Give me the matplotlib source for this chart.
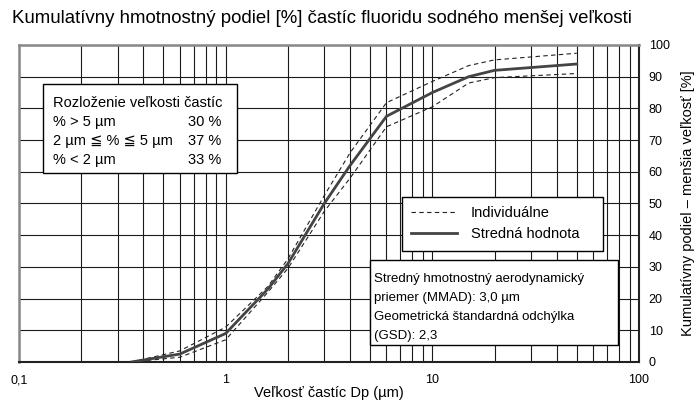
import matplotlib
matplotlib.use("Agg")
from matplotlib import pyplot as plt
from matplotlib.patches import Rectangle
from matplotlib.ticker import LogLocator, NullFormatter, FixedLocator
import numpy as np

plt.rcParams['font.family'] = ['Liberation Sans', 'DejaVu Sans']

# particle diameter (um) and cumulative mass fraction below size (%)
dp = [0.35, 0.6, 1.0, 1.6, 2.0, 3.0, 4.0, 6.0, 10, 15, 20, 50]
mean_val = [0, 2.5, 9, 23, 31, 50, 62, 77.5, 85, 90, 92, 94]
indiv_hi = [0, 3.5, 11, 23.8, 32.5, 52.5, 66, 81.8, 88.5, 93.5, 95.3, 97.4]
indiv_lo = [0, 1.5, 7, 22, 29.5, 47.5, 58, 74.2, 80.5, 88, 89.7, 91]

x_ticks = [0.1, 1, 10, 100]
x_ticklabels = ["0,1", "1", "10", "100"]
y_ticks = list(range(0, 101, 10))

dist_rows = [("% > 5 µm", "30 %"),
             ("2 µm ≦ % ≦ 5 µm", "37 %"),
             ("% < 2 µm", "33 %")]
mmad_lines = ["Stredný hmotnostný aerodynamický",
              "priemer (MMAD): 3,0 µm",
              "Geometrická štandardná odchýlka",
              "(GSD): 2,3"]

fig = plt.figure(figsize=(6.94, 4.01), dpi=100)
ax = fig.add_axes([0.0274, 0.0973, 0.8933, 0.7905])

ax.set_xscale('log')
ax.set_xlim(0.1, 100)
ax.set_ylim(0, 100)

# grid
ax.xaxis.set_major_locator(FixedLocator(x_ticks))
ax.xaxis.set_minor_locator(LogLocator(base=10, subs=np.arange(2, 10)))
ax.xaxis.set_minor_formatter(NullFormatter())
ax.set_xticklabels(x_ticklabels)
ax.set_yticks(y_ticks)
ax.grid(True, which='both', axis='x', color='#1a1a1a', linewidth=0.8, zorder=0)
ax.grid(True, which='major', axis='y', color='#1a1a1a', linewidth=0.8, zorder=0)
ax.set_axisbelow(True)

ax.yaxis.tick_right()
ax.yaxis.set_label_position('right')
ax.tick_params(axis='both', which='both', length=0, labelsize=9)
ax.tick_params(axis='x', pad=9)
ax.tick_params(axis='y', pad=7)

for side in ['top', 'left']:
    ax.spines[side].set_color('#888888')
    ax.spines[side].set_linewidth(1.8)
for side in ['bottom', 'right']:
    ax.spines[side].set_color('#222222')
    ax.spines[side].set_linewidth(1.5)

# curves
ax.plot(dp, indiv_hi, color='#222222', linewidth=0.8, linestyle=(0, (4, 3)),
        label='Individuálne', zorder=3)
ax.plot(dp, indiv_lo, color='#222222', linewidth=0.8, linestyle=(0, (4, 3)), zorder=3)
ax.plot(dp, mean_val, color='#444444', linewidth=2.0, label='Stredná hodnota', zorder=4)

ax.set_xlabel("Veľkosť častíc Dp (µm)", fontsize=10.5, labelpad=0)
ax.set_ylabel("Kumulatívny podiel – menšia veľkosť [%]", fontsize=10.5, labelpad=8)

fig.text(0.017, 0.955, "Kumulatívny hmotnostný podiel [%] častíc fluoridu sodného menšej veľkosti",
         fontsize=13.4, va='center', ha='left')

# size distribution box
ax.add_patch(Rectangle((0.0387, 0.596), 0.3129, 0.281, transform=ax.transAxes,
                       facecolor='white', edgecolor='black', linewidth=1.0, zorder=5))
ax.text(0.055, 0.817, "Rozloženie veľkosti častíc", transform=ax.transAxes,
        fontsize=10.5, va='center', ha='left', zorder=6)
for i, (lbl, val) in enumerate(dist_rows):
    yy = 0.757 - i * 0.060
    ax.text(0.055, yy, lbl, transform=ax.transAxes, fontsize=10.5, va='center', ha='left', zorder=6)
    ax.text(0.327, yy, val, transform=ax.transAxes, fontsize=10.5, va='center', ha='right', zorder=6)

# legend
leg = ax.legend(loc='upper left', bbox_to_anchor=(0.6177, 0.347, 0.3243, 0.1735),
                mode='expand', fontsize=10.5, frameon=True, fancybox=False,
                edgecolor='black', framealpha=1, handlelength=3.15, handletextpad=0.96,
                borderpad=0.63, labelspacing=0.5, borderaxespad=0)
leg.get_frame().set_linewidth(1.0)
leg.set_zorder(6)

# MMAD / GSD box
ax.add_patch(Rectangle((0.566, 0.0536), 0.400, 0.268, transform=ax.transAxes,
                       facecolor='white', edgecolor='black', linewidth=1.0, zorder=5))
for i, line in enumerate(mmad_lines):
    ax.text(0.573, 0.2605 - i * 0.060, line, transform=ax.transAxes,
            fontsize=9.5, va='center', ha='left', zorder=6)

plt.savefig("out.png", dpi=100)
